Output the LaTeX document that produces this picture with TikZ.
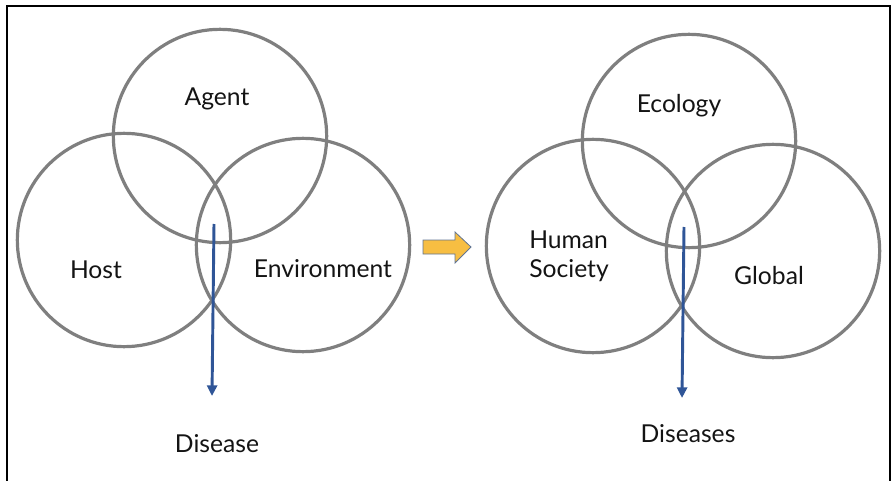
\documentclass[tikz,border=0pt]{standalone}
\usepackage{fontspec}
\setmainfont{Lato}
\usepackage{tikz}
\usetikzlibrary{arrows.meta}
\definecolor{venngray}{RGB}{127,127,127}
\definecolor{flowblue}{RGB}{47,85,151}
\definecolor{shiftyellow}{RGB}{247,190,66}
\definecolor{shiftedge}{RGB}{96,116,146}
\definecolor{labeltext}{RGB}{20,20,20}
\tikzset{
	venn/.style={circle, draw=venngray, line width=2.4pt, minimum size=160pt, inner sep=0pt},
	vlabel/.style={anchor=base, text=labeltext, font=\fontsize{18.5}{21.75}\selectfont},
	flow/.style={draw=flowblue, line width=2.2pt, -{Triangle[length=8pt,width=7.5pt]}}
}

\begin{document}
\begin{tikzpicture}[x=0.75pt,y=-0.75pt]
		\useasboundingbox (0,0) rectangle (892,481);
		% frame, open at the bottom
		\draw[line width=1.5pt] (7,500) -- (7,6) -- (890,6) -- (890,500);

		% classical triad
		\node[venn] (agent) at (220,136) {};
		\node[venn] (host) at (124,240) {};
		\node[venn] (environment) at (303,245) {};
		\node[vlabel] (agentlbl) at (217,106) {Agent};
		\node[vlabel] (hostlbl) at (96,278) {Host};
		\node[vlabel] (environmentlbl) at (323,277) {Environment};
		\node[vlabel] (diseaselbl) at (217,452) {Disease};
		\coordinate (diseasefrom) at (214,224);
		\coordinate (diseaseto) at (212,396);
		\draw[flow] (diseasefrom) -- (diseaseto);

		% shift arrow
		\draw[fill=shiftyellow, draw=shiftedge, line width=0.6pt]
			(423,240) -- (455,240) -- (455,232) -- (471,247) -- (455,263) -- (455,254) -- (423,254) -- cycle;

		% extended triad
		\node[venn] (ecology) at (689,141) {};
		\node[venn] (society) at (593,246) {};
		\node[venn] (global) at (773,251) {};
		\node[vlabel] (ecologylbl) at (679,113) {Ecology};
		\node[vlabel, anchor=west, align=left, inner sep=0pt] (societylbl) at (529,256) {Human\\Society};
		\node[vlabel] (globallbl) at (769,284) {Global};
		\node[vlabel] (diseaseslbl) at (688,442) {Diseases};
		\coordinate (diseasesfrom) at (684,227);
		\coordinate (diseasesto) at (682,398);
		\draw[flow] (diseasesfrom) -- (diseasesto);
\end{tikzpicture}
\end{document}
